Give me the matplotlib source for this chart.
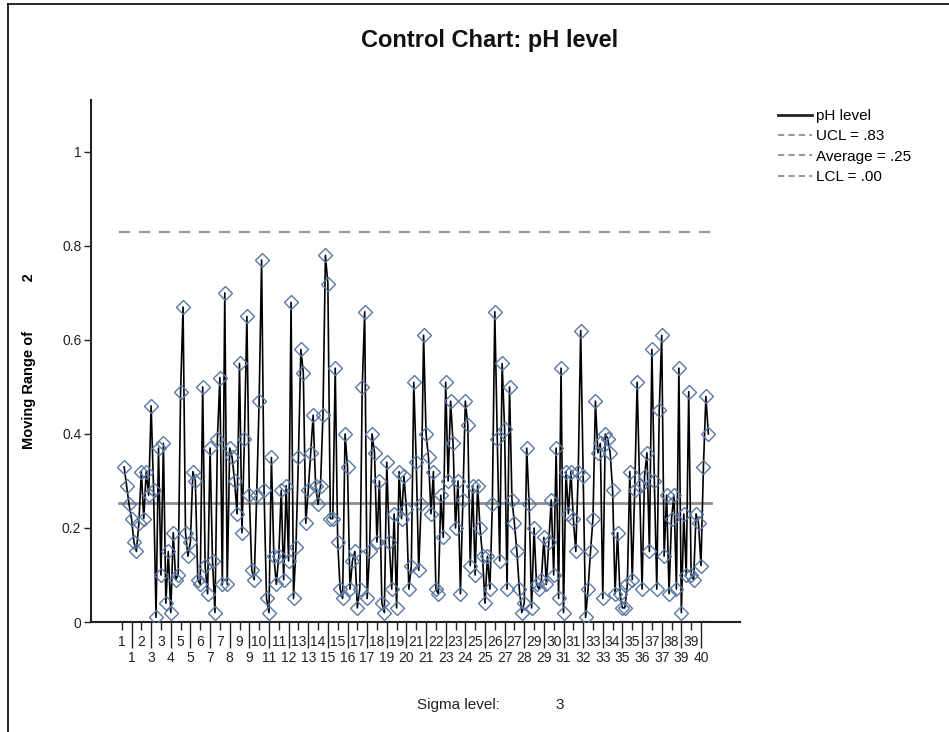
import matplotlib
matplotlib.use("Agg")
import matplotlib.pyplot as plt
from matplotlib.lines import Line2D
from matplotlib.ticker import FixedLocator, FixedFormatter
import numpy as np

plt.rcParams['font.family'] = ['Liberation Sans', 'DejaVu Sans']

# Moving range (span 2) of pH level, observations 2..240
moving_range = [
    .33, .29, .25, .22, .17, .15, .21, .32, .22, .32, .27, .46, .28, .01, .37, .10, .38, .04, .15,
    .02, .19, .09, .10, .49, .67, .19, .14, .17, .32,
    .30, .09, .08, .50, .12, .06, .37, .13, .02, .39, .52, .08, .70, .08, .37,
    .35, .30, .23, .55, .19, .39, .65, .27, .11, .09, .27, .47, .77, .28, .05,
    .02, .35, .14, .08, .14, .28, .09, .29, .13, .68, .05, .16, .35, .58, .53,
    .21, .28, .36, .44, .29, .25, .29, .44, .78, .72, .22, .22, .54, .17, .07,
    .05, .40, .33, .07, .13, .15, .03, .07, .50, .66, .05, .15, .40, .36, .17,
    .30, .04, .02, .34, .17, .07, .23, .03, .32, .22, .31, .24, .07, .12, .51,
    .34, .11, .25, .61, .40, .35, .23, .32, .07, .06, .27, .18, .51, .30, .47,
    .38, .20, .30, .06, .26, .47, .42, .12, .29, .10, .29, .20, .14, .04, .14,
    .07, .25, .66, .39, .13, .55, .41, .07, .50, .26, .21, .15, .07, .02, .04,
    .37, .25, .03, .20, .08, .07, .09, .18, .08, .17, .26, .10, .37, .05, .54,
    .02, .32, .23, .32, .22, .15, .32, .62, .31, .01, .07, .15, .22, .47, .36,
    .38, .05, .40, .39, .36, .28, .06, .19, .06, .03, .03, .08, .32, .09, .28,
    .51, .29, .07, .31, .36, .15, .58, .30, .07, .45, .61, .14, .27, .06, .22,
    .27, .07, .54, .02, .23, .10, .49, .10, .09, .23, .21, .12, .33, .48, .40,
]
first_obs = 2
n_obs = 240
subgroup_size = 6

ucl = 0.83
average = 0.254
lcl = 0.0
sigma_level = 3

obs = np.arange(first_obs, first_obs + len(moving_range))

fig = plt.figure(figsize=(9.49, 7.32), dpi=100)
ax = fig.add_axes([91 / 949, 1 - 622 / 732, (740 - 91) / 949, (622 - 100) / 732])

line_x = [0, n_obs + 1]
ax.plot(line_x, [ucl, ucl], color='#999999', lw=1.6, dashes=(5, 4), zorder=2)
ax.plot(line_x, [average, average], color='#8e8e8e', lw=2.0, zorder=2)
ax.plot(line_x, [lcl, lcl], color='#999999', lw=1.6, dashes=(5, 4), zorder=2)

ax.plot(obs, moving_range, color='black', lw=1.2, zorder=3)
ax.plot(obs, moving_range, ls='none', marker='D', ms=7.5, mfc='none',
        mec='#5a78a6', mew=1.0, zorder=4)

ax.set_xlim(-11.5, 252.9)
ax.set_ylim(0, 1.1106)

for s in ['top', 'right']:
    ax.spines[s].set_visible(False)
for s in ['left', 'bottom']:
    ax.spines[s].set_linewidth(1.5)
    ax.spines[s].set_color('#222222')

# y axis
ax.set_yticks([0, 0.2, 0.4, 0.6, 0.8, 1.0])
ax.set_yticklabels(['0', '0.2', '0.4', '0.6', '0.8', '1'])
ax.tick_params(axis='y', length=5, width=1, pad=2, labelsize=10, colors='#222222')

# x axis: staggered subgroup labels every 4 observations
tick_obs = np.arange(1, n_obs, 4)
tick_labels = [str(int(np.ceil(o / subgroup_size))) for o in tick_obs]
row1 = tick_obs[0::2]
row2 = tick_obs[1::2]
ax.xaxis.set_major_locator(FixedLocator(row1))
ax.xaxis.set_major_formatter(FixedFormatter(tick_labels[0::2]))
ax.xaxis.set_minor_locator(FixedLocator(row2))
ax.xaxis.set_minor_formatter(FixedFormatter(tick_labels[1::2]))
ax.tick_params(axis='x', which='major', length=6, width=1, pad=3, labelsize=10, colors='#222222')
ax.tick_params(axis='x', which='minor', length=19, width=1, pad=2, labelsize=10, colors='#222222')

ax.set_ylabel('Moving Range of            2', fontsize=10.5, fontweight='bold', labelpad=19)

fig.text(490 / 949, 1 - 40 / 732, 'Control Chart: pH level', ha='center', va='center',
         fontsize=17, fontweight='bold', color='#111111')
fig.text(417 / 949, 1 - 705 / 732, 'Sigma level:', ha='left', va='center', fontsize=11, color='#222222')
fig.text(560 / 949, 1 - 705 / 732, str(sigma_level), ha='center', va='center', fontsize=11, color='#222222')

def fmt(v):
    return f"{v:.2f}".lstrip('0') if v < 1 else f"{v:.2f}"

handles = [
    Line2D([], [], color='#222222', lw=2),
    Line2D([], [], color='#999999', lw=1.5, dashes=(3, 2)),
    Line2D([], [], color='#999999', lw=1.5, dashes=(3, 2)),
    Line2D([], [], color='#999999', lw=1.5, dashes=(3, 2)),
]
labels = ['pH level', f'UCL = {fmt(ucl)}', f'Average = {fmt(average)}', f'LCL = {fmt(lcl)}']
fig.legend(handles, labels, loc='upper left', bbox_to_anchor=(778 / 949, 1 - 109 / 732),
           frameon=False, fontsize=11, handlelength=2.2, handletextpad=0.3,
           labelspacing=0.42, borderaxespad=0, borderpad=0)

# outer frame
fig.add_artist(Line2D([8 / 949, 8 / 949], [0, 1 - 4 / 732], transform=fig.transFigure,
                      color='black', lw=1.2))
fig.add_artist(Line2D([8 / 949, 1], [1 - 4 / 732, 1 - 4 / 732], transform=fig.transFigure,
                      color='black', lw=1.2))

fig.savefig('out.png', dpi=100)
